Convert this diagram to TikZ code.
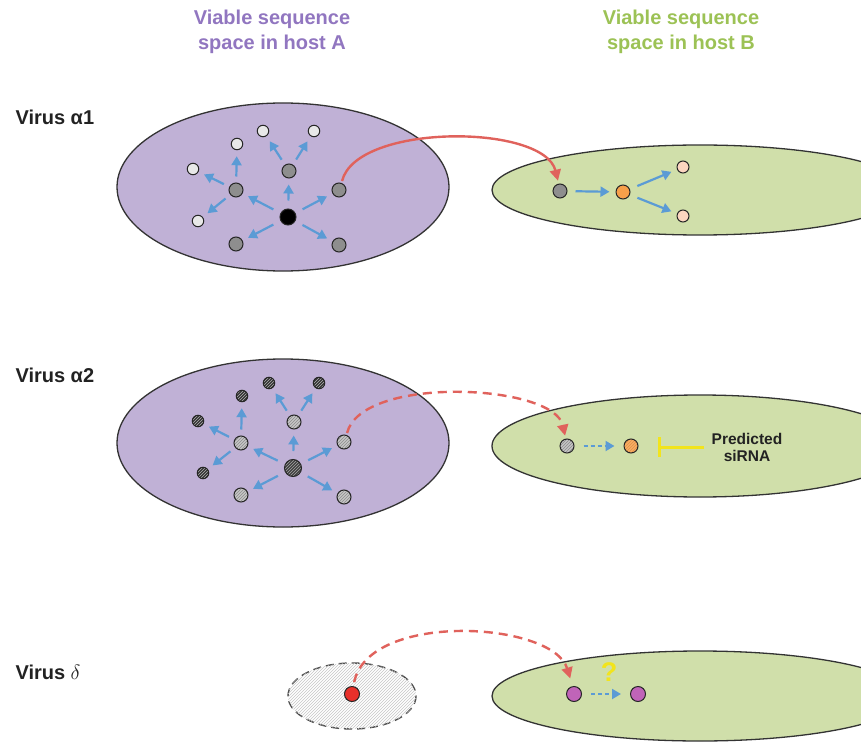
\documentclass[tikz,border=0pt]{standalone}
\usepackage{fontspec}
\setmainfont{Liberation Sans}
\usetikzlibrary{arrows.meta,patterns}
\definecolor{purpfill}{HTML}{C0B1D6}
\definecolor{greenfill}{HTML}{D0DFAA}
\definecolor{titlepurp}{HTML}{9176C0}
\definecolor{titlegreen}{HTML}{9CC255}
\definecolor{bluearr}{HTML}{5B9BD5}
\definecolor{redarr}{HTML}{E0625C}
\definecolor{gnodec}{HTML}{8E8E8E}
\definecolor{lnodec}{HTML}{E8E8E8}
\definecolor{orangec}{HTML}{F7A04A}
\definecolor{peachc}{HTML}{FCD6C0}
\definecolor{magc}{HTML}{C064B8}
\definecolor{redn}{HTML}{E8302A}
\definecolor{yellowc}{HTML}{F2E41C}
\definecolor{textc}{HTML}{222222}
\begin{document}
\begin{tikzpicture}[x=1pt,y=-1pt,
  ellA/.style={fill=purpfill,draw=black!80,line width=1.3pt},
  ellB/.style={fill=greenfill,draw=black!80,line width=1.3pt},
  dot/.style={circle,draw=black!85,line width=1pt,inner sep=0pt,minimum size=#1},
  dot/.default=13pt,
  bigdot/.style={dot=16pt,fill=black},
  gdot/.style={dot=14pt,fill=gnodec},
  ldot/.style={dot=11.5pt,fill=lnodec},
  hgdot/.style={dot=14pt,preaction={fill=gray!45},pattern=north east lines,pattern color=gray!90},
  hbig/.style={dot=17pt,preaction={fill=black!75},pattern=north east lines,pattern color=gray!70},
  hdark/.style={dot=11.5pt,preaction={fill=black!80},pattern=north east lines,pattern color=gray!60},
  barr/.style={draw=bluearr,line width=2.2pt,-{Triangle[length=9pt,width=10pt]},shorten <=8pt,shorten >=6pt},
  dbarr/.style={draw=bluearr,line width=2pt,dash pattern=on 4pt off 3pt,-{Triangle[length=9pt,width=10pt]},shorten <=9pt,shorten >=9pt},
  rarr/.style={draw=redarr,line width=2.4pt,-{Triangle[length=11pt,width=11pt]}},
  drarr/.style={rarr,dash pattern=on 9pt off 6pt},
  title/.style={font=\bfseries\fontsize{20}{25}\selectfont,align=center},
  vlabel/.style={font=\bfseries\fontsize{20}{22}\selectfont,anchor=west,text=textc}
]
\clip (0,0) rectangle (861,751);
\fill[white] (0,0) rectangle (861,751);

% titles
\node[title,text=titlepurp] (tA) at (272,32) {Viable sequence\\space in host A};
\node[title,text=titlegreen] (tB) at (681,32) {Viable sequence\\space in host B};

% labels
\node[vlabel] (l1) at (12,117) {Virus α1};
\node[vlabel] (l2) at (12,375) {Virus α2};
\node[vlabel] (l3) at (12,672) {Virus {\mdseries$\delta$}};

% ---------- row 1 ----------
\draw[ellA] (283,187) ellipse [x radius=166, y radius=84];
\draw[ellB] (700,190) ellipse [x radius=208, y radius=45];

\node[bigdot] (c1) at (288,217) {};
\node[gdot] (g1) at (236,190) {};
\node[gdot] (g2) at (289,171) {};
\node[gdot] (g3) at (339,190) {};
\node[gdot] (g4) at (236,244) {};
\node[gdot] (g5) at (339,245) {};
\node[ldot] (w1) at (237,144) {};
\node[ldot] (w2) at (263,131) {};
\node[ldot] (w3) at (314,131) {};
\node[ldot] (w4) at (193,169) {};
\node[ldot] (w5) at (198,221) {};
\foreach \t in {g1,g2,g3,g4,g5} \draw[barr] (c1) -- (\t);
\foreach \t in {w1,w4,w5} \draw[barr,shorten <=6pt,shorten >=6pt] (g1) -- (\t);
\foreach \t in {w2,w3} \draw[barr,shorten <=6pt,shorten >=6pt] (g2) -- (\t);

\node[gdot] (bg1) at (560,191) {};
\node[dot=14pt,fill=orangec] (bo1) at (623,192) {};
\node[dot=12pt,fill=peachc] (bp1) at (683,167) {};
\node[dot=12pt,fill=peachc] (bp2) at (683,216) {};
\draw[barr] (bg1) -- (bo1);
\draw[barr] (bo1) -- (bp1);
\draw[barr] (bo1) -- (bp2);

\draw[rarr,shorten <=2pt,shorten >=3pt] (g3.70) .. controls +(15,-60) and +(-15,-60) .. (bg1.100);

% ---------- row 2 ----------
\draw[ellA] (283,443) ellipse [x radius=166, y radius=84];
\draw[ellB] (700,446) ellipse [x radius=208, y radius=51];

\node[hbig] (c2) at (293,468) {};
\node[hgdot] (h1) at (241,443) {};
\node[hgdot] (h2) at (294,422) {};
\node[hgdot] (h3) at (344,442) {};
\node[hgdot] (h4) at (241,495) {};
\node[hgdot] (h5) at (344,497) {};
\node[hdark] (k1) at (242,396) {};
\node[hdark] (k2) at (269,383) {};
\node[hdark] (k3) at (319,383) {};
\node[hdark] (k4) at (198,421) {};
\node[hdark] (k5) at (203,473) {};
\foreach \t in {h1,h2,h3,h4,h5} \draw[barr] (c2) -- (\t);
\foreach \t in {k1,k4,k5} \draw[barr,shorten <=6pt,shorten >=6pt] (h1) -- (\t);
\foreach \t in {k2,k3} \draw[barr,shorten <=6pt,shorten >=6pt] (h2) -- (\t);

\node[hgdot] (bg2) at (567,446) {};
\node[dot=14pt,preaction={fill=orangec!85},pattern=north east lines,pattern color=orangec!60!brown] (bo2) at (631,446) {};
\draw[dbarr] (bg2) -- (bo2);

\node[font=\bfseries\fontsize{15.5}{17}\selectfont,align=center,text=textc] (sirna) at (747,447) {Predicted\\siRNA};
\coordinate (tbar) at (659,447);
\draw[yellowc,line width=3pt] (sirna.west) ++(-4,0) coordinate (tend) -- (tbar);
\draw[yellowc,line width=3pt] ([yshift=-10]tbar) -- ([yshift=10]tbar);

\draw[drarr,shorten <=2pt,shorten >=3pt] (h3.70) .. controls +(15,-60) and +(-12,-55) .. (bg2.100);

% ---------- row 3 ----------
\draw[ellB] (700,696) ellipse [x radius=208, y radius=45];
\draw[draw=black!70,line width=1.4pt,dash pattern=on 8pt off 5pt,fill=white,
      postaction={pattern=north east lines,pattern color=gray!45}] (352,696) ellipse [x radius=64, y radius=33];

\node[dot=15pt,fill=redn] (r1) at (352,694) {};
\node[dot=15pt,fill=magc] (m1) at (574,694) {};
\node[dot=15pt,fill=magc] (m2) at (638,694) {};
\draw[dbarr] (m1) -- (m2);
\node[font=\bfseries\fontsize{27}{28}\selectfont,text=yellowc] (q) at (609,672) {?};

\draw[drarr,shorten <=4pt,shorten >=8pt] (r1.80) .. controls +(15,-75) and +(-20,-65) .. (m1.100);
\end{tikzpicture}
\end{document}
